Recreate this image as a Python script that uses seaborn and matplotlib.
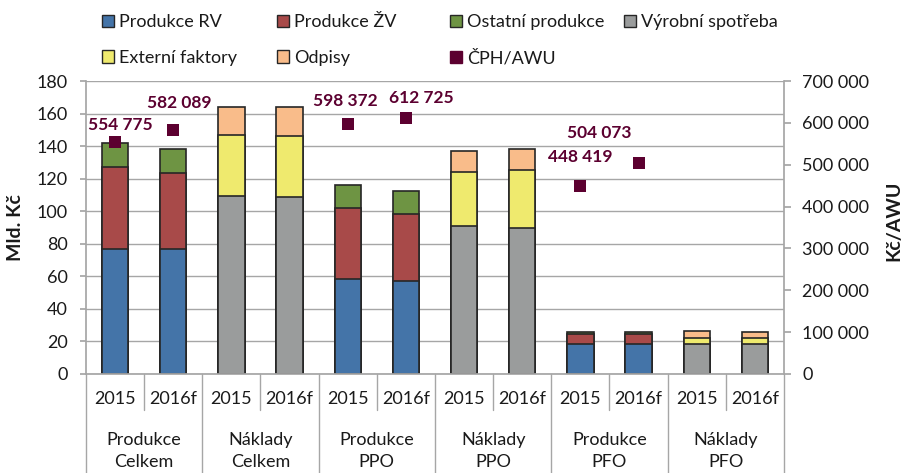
import numpy as np
import pandas as pd
import seaborn as sns
import matplotlib.pyplot as plt
import matplotlib.transforms as mtransforms
from matplotlib.patches import Patch
from matplotlib.lines import Line2D
from matplotlib.ticker import FuncFormatter, MultipleLocator

# --- data ---
groups = ["Produkce\nCelkem", "Náklady\nCelkem", "Produkce\nPPO",
          "Náklady\nPPO", "Produkce\nPFO", "Náklady\nPFO"]
years = ["2015", "2016f"]

# produkce bars: Celkem 2015, 2016f, PPO 2015, 2016f, PFO 2015, 2016f (mld. Kč)
produkce_rv = [76.6, 76.6, 58.2, 57.3, 18.2, 18.2]
produkce_zv = [50.3, 46.6, 43.5, 41.0, 6.6, 6.6]
ostatni_produkce = [15.0, 15.0, 14.2, 14.1, 1.0, 1.0]
cph_awu = [554775, 582089, 598372, 612725, 448419, 504073]

# naklady bars: Celkem 2015, 2016f, PPO 2015, 2016f, PFO 2015, 2016f (mld. Kč)
vyrobni_spotreba = [109.3, 108.5, 90.9, 89.9, 18.2, 18.2]
externi_faktory = [37.3, 37.9, 33.4, 35.4, 3.7, 3.7]
odpisy = [17.6, 17.8, 12.9, 12.9, 4.7, 3.9]

colors = {"rv": "#4474A8", "zv": "#A84A49", "ost": "#6E9443",
          "spot": "#9A9C9C", "ext": "#EFEA6E", "odp": "#F9BC8A",
          "cph": "#5C0030"}

# label offsets (pixels) for the ČPH/AWU values
label_offsets = [(5, 17), (6, 27), (-2, 23), (15, 20), (0, 29), (-39, 30)]

# --- tables ---
bar_ids = [f"{g.replace(chr(10), ' ')} {y}" for g in groups for y in years]
prod_bars = [bar_ids[i] for i in (0, 1, 4, 5, 8, 9)]
nakl_bars = [bar_ids[i] for i in (2, 3, 6, 7, 10, 11)]

prod = pd.DataFrame({"bar": prod_bars, "rv": produkce_rv, "zv": produkce_zv,
                     "ost": ostatni_produkce, "cph": cph_awu})
prod["c1"] = prod["rv"]
prod["c2"] = prod["c1"] + prod["zv"]
prod["c3"] = prod["c2"] + prod["ost"]
prod["pos"] = [bar_ids.index(b) for b in prod["bar"]]

nakl = pd.DataFrame({"bar": nakl_bars, "spot": vyrobni_spotreba,
                     "ext": externi_faktory, "odp": odpisy})
nakl["c1"] = nakl["spot"]
nakl["c2"] = nakl["c1"] + nakl["ext"]
nakl["c3"] = nakl["c2"] + nakl["odp"]

sns.set_theme(style="white")
plt.rcParams["font.family"] = ["Lato", "DejaVu Sans"]
txt = "#1A1A1A"
grey = "#A6A6A6"
fs = 13

W, H = 903, 473
fig = plt.figure(figsize=(W / 100, H / 100), dpi=100)
ax = fig.add_axes([86 / W, 1 - 374 / H, 698 / W, 293 / H])

layers = [(prod, "c3", colors["ost"]), (nakl, "c3", colors["odp"]),
          (prod, "c2", colors["zv"]), (nakl, "c2", colors["ext"]),
          (prod, "c1", colors["rv"]), (nakl, "c1", colors["spot"])]
for d, col, c in layers:
    sns.barplot(data=d, x="bar", y=col, order=bar_ids, color=c, saturation=1,
                width=0.45, edgecolor="#262626", linewidth=1.2, errorbar=None, ax=ax)

ax.set_xlim(-0.5, 11.5)
ax.set_ylim(0, 180)
ax.yaxis.set_major_locator(MultipleLocator(20))
ax.yaxis.grid(True, color=grey, lw=1)
ax.set_axisbelow(True)
ax.set_xlabel("")
ax.set_ylabel("")
ax.tick_params(axis="x", bottom=False, labelbottom=False)
ax.tick_params(axis="y", left=True, length=4.5, color=grey, labelsize=fs,
               labelcolor=txt, pad=8.5)
for s in ["top", "right"]:
    ax.spines[s].set_visible(False)
for s in ["left", "bottom"]:
    ax.spines[s].set_color(grey)

# secondary axis
ax2 = ax.twinx()
sns.scatterplot(data=prod, x="pos", y="cph", marker="s", s=75, color=colors["cph"],
                edgecolor="none", ax=ax2, legend=False)
ax2.set_ylim(0, 700000)
ax.set_xlim(-0.5, 11.5)
ax2.yaxis.set_major_locator(MultipleLocator(100000))
ax2.yaxis.set_major_formatter(FuncFormatter(lambda v, p: f"{v:,.0f}".replace(",", " ")))
ax2.tick_params(axis="y", right=True, length=5, color=grey, labelsize=fs,
                labelcolor=txt, pad=8)
ax2.set_ylabel("")
for s in ["top", "left", "bottom"]:
    ax2.spines[s].set_visible(False)
ax2.spines["right"].set_color(grey)

for (x, v), off in zip(zip(prod["pos"], prod["cph"]), label_offsets):
    ax2.annotate(f"{v:,}".replace(",", " "), (x, v), xytext=off,
                 textcoords="offset pixels", ha="center", va="center",
                 fontsize=12.5, fontweight="bold", color=colors["cph"])

fig.text(15.5 / W, 1 - 228 / H, "Mld. Kč", rotation=90, ha="center", va="center",
         fontsize=14, fontweight="bold", color=txt)
fig.text(894 / W, 1 - 221 / H, "Kč/AWU", rotation=90, ha="center", va="center",
         fontsize=14, fontweight="bold", color=txt)

# two-level category axis
trans = mtransforms.blended_transform_factory(ax.transData, ax.transAxes)
for k, b in enumerate(bar_ids):
    ax.text(k, -25 / 293, years[k % 2], transform=trans, ha="center", va="center",
            fontsize=fs, color=txt)
for i, g in enumerate(groups):
    ax.text(2 * i + 0.5, -77 / 293, g, transform=trans, ha="center", va="center",
            fontsize=fs, color=txt, linespacing=1.5)
for k in range(13):
    depth = 99 / 293 if k % 2 == 0 else 36 / 293
    ax.plot([k - 0.5, k - 0.5], [0, -depth], transform=trans, color=grey,
            lw=1, clip_on=False)

# legend, one block per column
h = {
    "Produkce RV": Patch(facecolor=colors["rv"], edgecolor="#262626"),
    "Produkce ŽV": Patch(facecolor=colors["zv"], edgecolor="#262626"),
    "Ostatní produkce": Patch(facecolor=colors["ost"], edgecolor="#262626"),
    "Výrobní spotřeba": Patch(facecolor=colors["spot"], edgecolor="#262626"),
    "Externí faktory": Patch(facecolor=colors["ext"], edgecolor="#262626"),
    "Odpisy": Patch(facecolor=colors["odp"], edgecolor="#262626"),
    "ČPH/AWU": Line2D([], [], marker="s", ls="none", markersize=8.6,
                      color=colors["cph"]),
}
columns = [(["Produkce RV", "Externí faktory"], 102),
           (["Produkce ŽV", "Odpisy"], 277),
           (["Ostatní produkce", "ČPH/AWU"], 450),
           (["Výrobní spotřeba"], 624)]
for names, xpix in columns:
    fig.legend([h[k] for k in names], names, loc="upper left",
               bbox_to_anchor=(xpix / W, 1 - 14 / H), ncol=1, frameon=False,
               fontsize=fs, handlelength=0.67, handleheight=0.67,
               handletextpad=0.28, labelspacing=1.1, borderpad=0,
               borderaxespad=0, labelcolor=txt)

fig.savefig("out.png", dpi=100)
